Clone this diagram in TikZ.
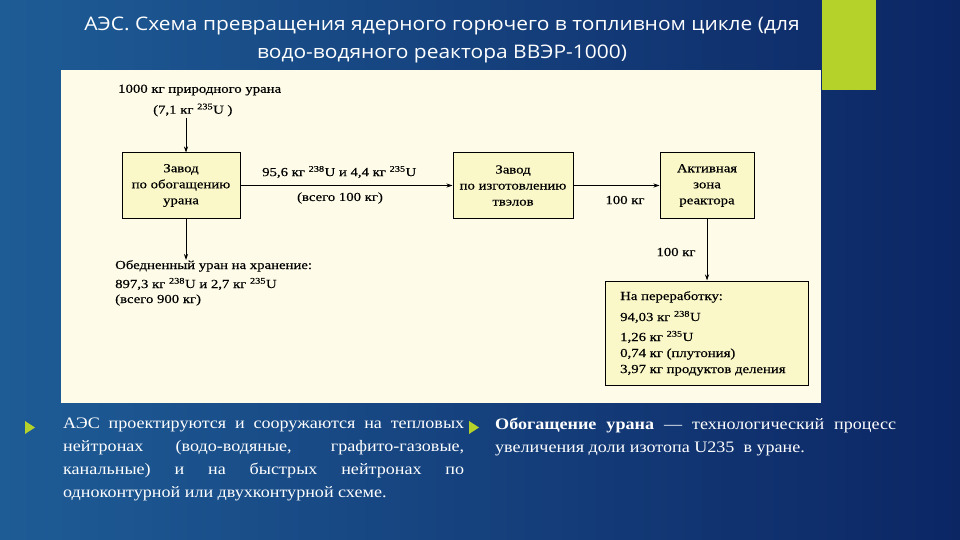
\documentclass[tikz,border=0pt]{standalone}
\usepackage{fontspec}
\setmainfont[FakeStretch=1.13]{Liberation Serif}
\newfontfamily\titlefont[FakeStretch=1.12]{Open Sans}
\newfontfamily\diafont[FakeStretch=1.2,FakeBold=0.4]{Liberation Serif}
\usetikzlibrary{arrows.meta}
\definecolor{bgL}{RGB}{30,92,150}
\definecolor{bgR}{RGB}{12,38,100}
\definecolor{panel}{RGB}{254,252,232}
\definecolor{boxfill}{RGB}{250,248,200}
\definecolor{lime}{RGB}{180,210,42}
\tikzset{
  flowbox/.style={draw=black, line width=1pt, fill=boxfill, inner sep=0pt},
  dtext/.style={font=\diafont\fontsize{12.3}{16}\selectfont, text=black, inner sep=0pt},
  flow/.style={draw=black, line width=0.8pt, -{Stealth[length=6pt,width=4pt]}},
  btext/.style={font=\fontsize{16}{23}\selectfont, text=white, inner sep=0pt, anchor=north west, align=left},
  bullet/.style={fill=lime, draw=none}
}
\newcommand{\iso}[1]{\textsuperscript{#1}}
\begin{document}
\begin{tikzpicture}[x=1pt,y=-1pt]
\useasboundingbox (0,0) rectangle (960,540);
\shade[left color=bgL, right color=bgR] (0,0) rectangle (960,540);
\fill[lime] (822,0) rectangle (876,90);
\fill[panel] (61,70) rectangle (821,403);
% title
\node[font=\titlefont\fontsize{18.7}{28}\selectfont, text=white, align=center] (title) at (442,39.5)
  {АЭС. Схема превращения ядерного горючего в топливном цикле (для\\водо-водяного реактора ВВЭР-1000)};
% diagram
\node[dtext, anchor=west] (nat1) at (118,90) {1000 кг природного урана};
\node[dtext, anchor=west] (nat2) at (153,110) {(7,1 кг \iso{235}U )};
\coordinate (natArrow) at (186,118);
\node[flowbox, minimum width=118pt, minimum height=65pt] (enr) at (181,185.5) {};
\node[dtext, align=center] (enrT) at (enr.center) {Завод\\по обогащению\\урана};
\node[flowbox, minimum width=120pt, minimum height=65pt] (fab) at (513,185.5) {};
\node[dtext, align=center] (fabT) at (fab.center) {Завод\\по изготовлению\\твэлов};
\node[flowbox, minimum width=94pt, minimum height=65pt] (core) at (707,185.5) {};
\node[dtext, align=center] (coreT) at (core.center) {Активная\\зона\\реактора};
\node[flowbox, minimum width=203pt, minimum height=104pt] (proc) at (706.5,333) {};
\node[dtext, anchor=north west, align=left] (procT) at (620,291)
  {На переработку:\\[5pt]94,03 кг \iso{238}U\\[4pt]1,26 кг \iso{235}U\\0,74 кг (плутония)\\3,97 кг продуктов деления};
\node[dtext, anchor=west] (l1) at (262,172) {95,6 кг \iso{238}U и 4,4 кг \iso{235}U};
\node[dtext] (l2) at (340,198) {(всего 100 кг)};
\node[dtext] (l3) at (625,200) {100 кг};
\node[dtext] (l4) at (676,252) {100 кг};
\node[dtext, anchor=north west, align=left] (dep) at (115,260)
  {Обедненный уран на хранение:\\[3pt]897,3 кг \iso{238}U и 2,7 кг \iso{235}U\\[-1pt](всего 900 кг)};
\draw[flow] (natArrow) -- (enr.north -| natArrow);
\draw[flow] (enr.east) -- (fab.west);
\draw[flow] (fab.east) -- (core.west);
\draw[flow] (core.south) -- (proc.north -| core.south);
\draw[flow] (enr.south -| natArrow) -- (dep.north -| natArrow);
% bullets
\fill[bullet] (25,421) -- (35,427.5) -- (25,434) -- cycle;
\fill[bullet] (469,421) -- (479,427.5) -- (469,434) -- cycle;
\node[btext] (left) at (63,418) {%
\makebox[401pt][s]{АЭС проектируются и сооружаются на тепловых}\\
\makebox[401pt][s]{нейтронах (водо-водяные, графито-газовые,}\\
\makebox[401pt][s]{канальные) и на быстрых нейтронах по}\\
одноконтурной или двухконтурной схеме.};
\node[btext] (right) at (495,418) {%
\makebox[401pt][s]{\textbf{Обогащение урана} — технологический процесс}\\
увеличения доли изотопа U235 \ в уране.};
\end{tikzpicture}
\end{document}
